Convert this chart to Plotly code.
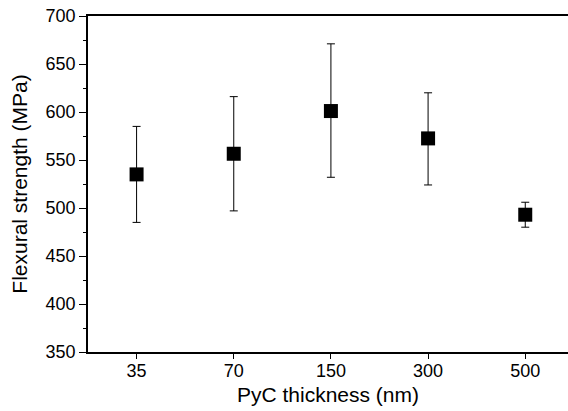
"""Flexural strength versus PyC coating thickness."""

import plotly.graph_objects as go


THICKNESS_LABELS = ["35", "70", "150", "300", "500"]
STRENGTH_MEAN = [535, 556.5, 601, 572.5, 493]
ERROR_UPPER = [50, 59.5, 70, 47.5, 13]
ERROR_LOWER = [50, 59.5, 69, 48.5, 13]

FONT = "Liberation Sans, Arial, sans-serif"

fig = go.Figure(
    go.Scatter(
        x=THICKNESS_LABELS,
        y=STRENGTH_MEAN,
        mode="markers",
        marker={"symbol": "square", "size": 14, "color": "black"},
        error_y={
            "type": "data",
            "symmetric": False,
            "array": ERROR_UPPER,
            "arrayminus": ERROR_LOWER,
            "color": "black",
            "thickness": 1,
            "width": 4,
        },
        showlegend=False,
    )
)
fig.update_layout(
    width=568,
    height=411,
    margin={"l": 88, "r": 0, "t": 16, "b": 59},
    paper_bgcolor="white",
    plot_bgcolor="white",
    font={"family": FONT, "color": "black"},
)
fig.update_xaxes(
    type="category",
    range=[-0.5, 4.44],
    showgrid=False,
    zeroline=False,
    showline=True,
    linecolor="black",
    linewidth=1.5,
    mirror=True,
    ticks="outside",
    ticklen=5,
    tickcolor="black",
    tickfont={"size": 18},
    ticklabelstandoff=-3,
    title={"text": "PyC thickness (nm)", "font": {"size": 21}, "standoff": 7},
)
fig.update_yaxes(
    range=[350, 700],
    dtick=50,
    showgrid=False,
    zeroline=False,
    showline=True,
    linecolor="black",
    linewidth=1.5,
    ticks="outside",
    ticklen=7,
    tickcolor="black",
    tickfont={"size": 18},
    minor={"dtick": 25, "ticks": "outside", "ticklen": 3, "tickcolor": "black"},
    title={"text": "Flexural strength (MPa)", "font": {"size": 21}, "standoff": 12},
)
fig.write_html(
    "out.html",
    config={"displayModeBar": False},
    post_script="document.body.style.margin = '0';",
)
